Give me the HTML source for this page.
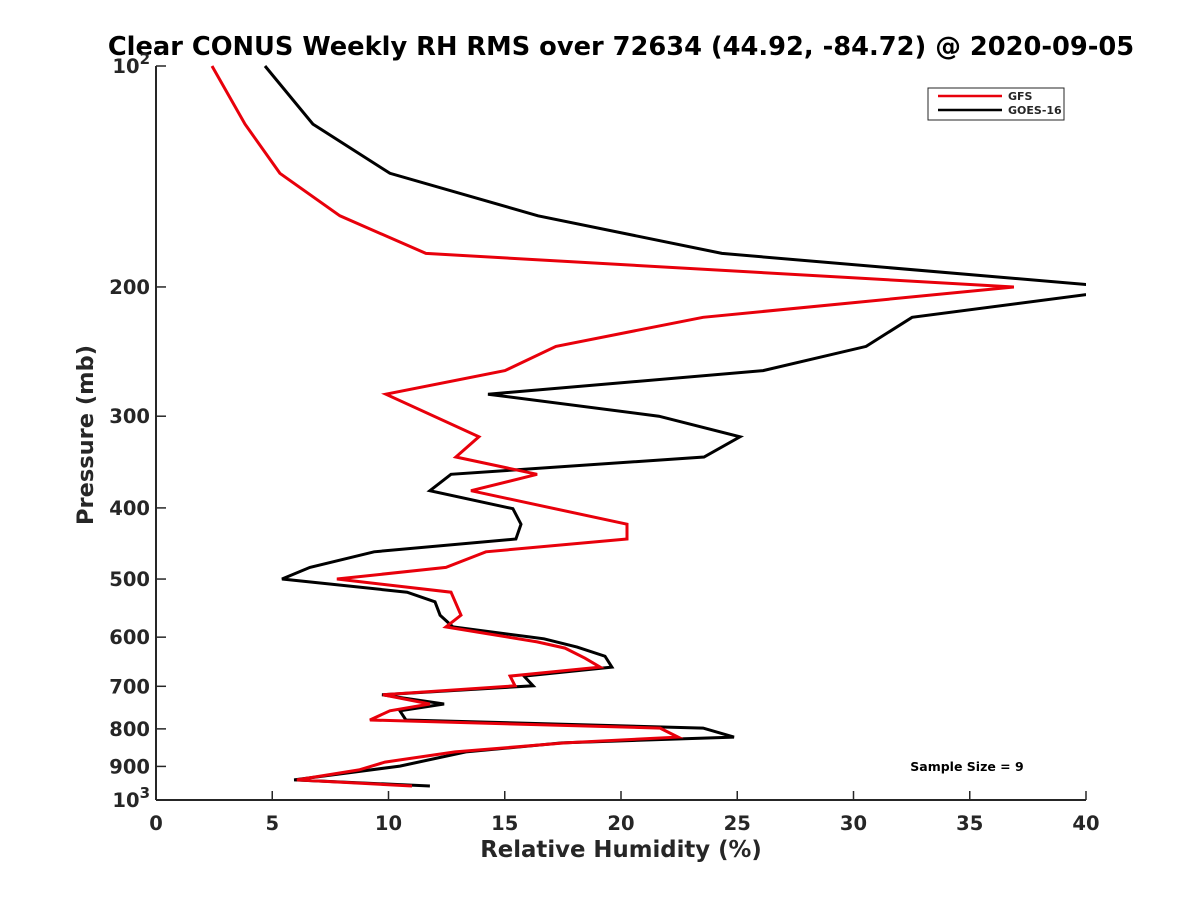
<!DOCTYPE html>
<html><head><meta charset="utf-8"><style>
html,body{margin:0;padding:0;background:#fff;}
svg text{font-family:"DejaVu Sans","Liberation Sans",sans-serif;font-weight:bold;fill:#262626;}
</style></head><body>
<svg id="chart" width="1200" height="900" viewBox="0 0 1200 900" xmlns="http://www.w3.org/2000/svg">
<rect width="1200" height="900" fill="#fff"/>
<defs><clipPath id="clip"><rect x="156" y="60" width="930" height="745"/></clipPath></defs>
<text x="621" y="55" font-size="25.7" text-anchor="middle" style="fill:#000">Clear CONUS Weekly RH RMS over 72634 (44.92, -84.72) @ 2020-09-05</text>
<g id="axes"></g>
<g id="series" clip-path="url(#clip)"></g>
<text x="621" y="857" font-size="22.8" text-anchor="middle">Relative Humidity (%)</text>
<text x="0" y="0" font-size="22.5" text-anchor="middle" transform="translate(93,435) rotate(-90)">Pressure (mb)</text>
<g>
<rect x="928" y="88" width="136" height="32" fill="#fff" stroke="#262626" stroke-width="1"/>
<line x1="938" y1="96" x2="1002" y2="96" stroke="#e8000b" stroke-width="2.5"/>
<text x="1008" y="100" font-size="11">GFS</text>
<line x1="938" y1="110" x2="1002" y2="110" stroke="#000" stroke-width="2.5"/>
<text x="1008" y="114" font-size="11">GOES-16</text>
</g>
<text x="967" y="771" font-size="12.5" text-anchor="middle" style="fill:#000">Sample Size = 9</text>
</svg>
<script>
const xTicks = [0,5,10,15,20,25,30,35,40];
const yTicks = [100,200,300,400,500,600,700,800,900,1000];
const yTickLabels = ["10²","200","300","400","500","600","700","800","900","10³"];
const gfsPressure = [100,120,140,160,180,200,220,241,260,280,320,341,360,379,421,441,459,482,500,521,560,581,609,621,641,659,678,699,719,740,756,778,798,821,836,860,888,910,939,957];
const gfsRH = [2.41,3.83,5.33,7.91,11.61,36.9,23.53,17.2,15.01,9.89,13.89,12.9,16.39,13.55,20.26,20.26,14.19,12.47,7.78,12.69,13.12,12.47,16.39,17.59,18.45,19.1,15.23,15.44,9.76,11.78,10.06,9.2,21.68,22.45,17.59,12.86,9.85,8.73,6.06,11.01];
const goesPressure = [100,120,140,160,180,201,220,241,260,280,300,320,341,360,379,401,421,441,459,482,500,521,537,560,581,603,619,637,659,678,699,719,740,756,778,798,821,836,860,899,939,957];
const goesRH = [4.69,6.75,10.06,16.43,24.34,42,32.52,30.54,26.11,14.28,21.63,25.12,23.57,12.69,11.78,15.35,15.7,15.48,9.38,6.62,5.42,10.8,12.0,12.22,12.77,16.69,18.11,19.31,19.61,15.83,16.22,9.72,12.39,10.49,10.75,23.53,24.86,17.46,13.33,10.49,5.94,11.78];

const NS='http://www.w3.org/2000/svg';
const X0=156,X1=1086,Y0=66,Y1=800;
const xs=v=>X0+(v-0)/40*(X1-X0);
const ys=p=>Y0+Math.log10(p/100)*(Y1-Y0);
function mk(tag,attrs,parent){const e=document.createElementNS(NS,tag);for(const k in attrs)e.setAttribute(k,attrs[k]);parent.appendChild(e);return e;}
const axes=document.getElementById('axes');
let l=mk('line',{x1:X0,y1:Y0,x2:X0,y2:Y1,stroke:'#262626','stroke-width':2},axes);


l=mk('line',{x1:X0,y1:Y1,x2:X1,y2:Y1,stroke:'#262626','stroke-width':2},axes);


xTicks.forEach(v=>{
  const t=mk('line',{x1:xs(v),y1:Y1,x2:xs(v),y2:Y1-9,stroke:'#262626','stroke-width':1.5},axes);
  
  
  const tx=mk('text',{x:xs(v),y:Y1+30,'font-size':19.5,'text-anchor':'middle'},axes);
  tx.textContent=v;
  
  
});
yTicks.forEach((p,i)=>{
  const t=mk('line',{x1:X0,y1:ys(p),x2:X0+10,y2:ys(p),stroke:'#262626','stroke-width':1.5},axes);
  
  
  const tx=mk('text',{x:X0-6,y:ys(p)+7,'font-size':19.5,'text-anchor':'end'},axes);
  const lab=yTickLabels[i];
  if(lab.endsWith('²')||lab.endsWith('³')){
    tx.textContent=lab.slice(0,-1);
    const s=mk('tspan',{dy:-9,'font-size':15},tx);
    s.textContent=lab.endsWith('²')?'2':'3';
  } else tx.textContent=lab;
  
  
});
const ser=document.getElementById('series');
function draw(P,V,col,name){
  const pts=P.map((p,i)=>xs(V[i]).toFixed(1)+','+ys(p).toFixed(1)).join(' ');
  const pl=mk('polyline',{points:pts,fill:'none',stroke:col,'stroke-width':3,'stroke-linejoin':'miter'},ser);
  
  
}
draw(goesPressure,goesRH,'#000','goes16-line');
draw(gfsPressure,gfsRH,'#e8000b','gfs-line');
</script>
</body></html>
